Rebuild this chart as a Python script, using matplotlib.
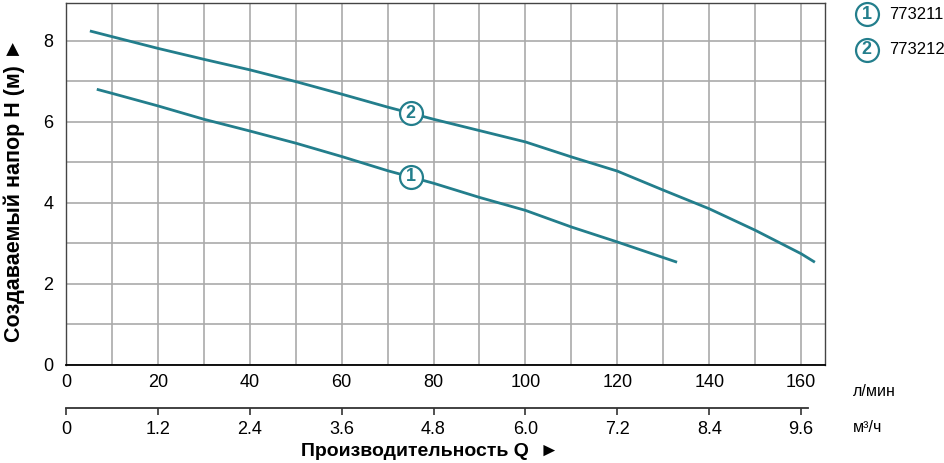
import numpy as np
import matplotlib.pyplot as plt
from matplotlib.ticker import MultipleLocator

plt.rcParams['font.family'] = ['Liberation Sans', 'DejaVu Sans']

# Pump curves (Q in l/min, H in m)
q_773211 = [6.7, 10, 20, 30, 40, 50, 60, 70, 80, 90, 100, 110, 120, 133]
h_773211 = [6.80, 6.70, 6.39, 6.06, 5.77, 5.47, 5.14, 4.79, 4.48, 4.13, 3.81, 3.40, 3.03, 2.53]

q_773212 = [5.2, 10, 20, 30, 40, 50, 60, 70, 80, 90, 100, 110, 120, 130, 140, 150, 160, 163]
h_773212 = [8.24, 8.10, 7.81, 7.54, 7.28, 6.99, 6.68, 6.36, 6.06, 5.78, 5.50, 5.13, 4.78, 4.31, 3.85, 3.32, 2.74, 2.53]

models = ['773211', '773212']
curve_ids = ['1', '2']
label_q = 75  # where the numbered circles sit on the curves

q_ticks = [0, 20, 40, 60, 80, 100, 120, 140, 160]
m3h_ticks = [0, 1.2, 2.4, 3.6, 4.8, 6.0, 7.2, 8.4, 9.6]
m3h_labels = ['0', '1.2', '2.4', '3.6', '4.8', '6.0', '7.2', '8.4', '9.6']
h_ticks = [0, 2, 4, 6, 8]

TEAL = '#237e8c'
GRID = '#aaaaaa'
W, H = 945, 463

fig = plt.figure(figsize=(W / 100, H / 100), dpi=100)

# main axes, pixel box: left 66, right 825, top 3, bottom 364.7
ax = fig.add_axes([66 / W, 1 - 364.7 / H, (825 - 66) / W, (364.7 - 3) / H])
ax.set_xlim(0, 165.2)
ax.set_ylim(0, 8.93)
ax.set_xticks(q_ticks)
ax.xaxis.set_minor_locator(MultipleLocator(10))
ax.set_yticks(h_ticks)
ax.yaxis.set_minor_locator(MultipleLocator(1))
ax.grid(True, which='both', color=GRID, linewidth=1.2)
ax.set_axisbelow(True)
ax.tick_params(which='both', length=0)
ax.tick_params(axis='x', labelsize=13, pad=7)
ax.tick_params(axis='y', labelsize=13, pad=9)
for side in ['top', 'right', 'left']:
    ax.spines[side].set_color('#444444')
    ax.spines[side].set_linewidth(1.0)
ax.spines['bottom'].set_color('black')
ax.spines['bottom'].set_linewidth(1.3)

curves = [(q_773211, h_773211), (q_773212, h_773212)]
for (q, h), cid in zip(curves, curve_ids):
    ax.plot(q, h, color=TEAL, linewidth=2.0, solid_capstyle='butt',
            solid_joinstyle='round', zorder=3)
    hy = np.interp(label_q, q, h)
    ax.plot(label_q, hy, 'o', markersize=16.5, markerfacecolor='white',
            markeredgecolor=TEAL, markeredgewidth=1.6, zorder=4)
    ax.text(label_q, hy, cid, color=TEAL, fontsize=13, fontweight='bold',
            ha='center', va='center', zorder=5)

fig.text(14 / W, 1 - 190 / H, 'Создаваемый напор Н (м) ►', fontsize=15.5,
         fontweight='bold', rotation=90, ha='center', va='center')

# secondary scale in m3/h below the main axis
ax2 = fig.add_axes([66 / W, 1 - 408.3 / H, (825 - 66) / W, 0.0001])
ax2.set_xlim(0, 165.2 * 0.06)
ax2.set_ylim(0, 1)
ax2.patch.set_visible(False)
for side in ['top', 'right', 'left']:
    ax2.spines[side].set_visible(False)
ax2.spines['bottom'].set_bounds(0, 161.5 * 0.06)
ax2.spines['bottom'].set_color('#333333')
ax2.spines['bottom'].set_linewidth(1.3)
ax2.set_yticks([])
ax2.set_xticks(m3h_ticks)
ax2.set_xticklabels(m3h_labels)
ax2.tick_params(axis='x', direction='out', length=5, width=1.2,
                color='#333333', labelsize=13, pad=4)

fig.text(853 / W, 1 - 392 / H, 'л/мин', fontsize=11.5, ha='left', va='center')
fig.text(853 / W, 1 - 427 / H, 'м³/ч', fontsize=11.5, ha='left', va='center')
fig.text(430 / W, 1 - 451 / H, 'Производительность Q  ►', fontsize=14,
         fontweight='bold', ha='center', va='center')

# legend with numbered circles
for i, (cid, name) in enumerate(zip(curve_ids, models)):
    y = 1 - (14.3 + 35.7 * i) / H
    fig.lines.append(plt.Line2D([866.7 / W], [y], marker='o', markersize=16.5,
                                markerfacecolor='white', markeredgecolor=TEAL,
                                markeredgewidth=1.6, transform=fig.transFigure))
    fig.text(866.7 / W, y, cid, color=TEAL, fontsize=13, fontweight='bold',
             ha='center', va='center')
    fig.text(889 / W, y, name, fontsize=12, ha='left', va='center')

fig.savefig('out.png', dpi=100)
